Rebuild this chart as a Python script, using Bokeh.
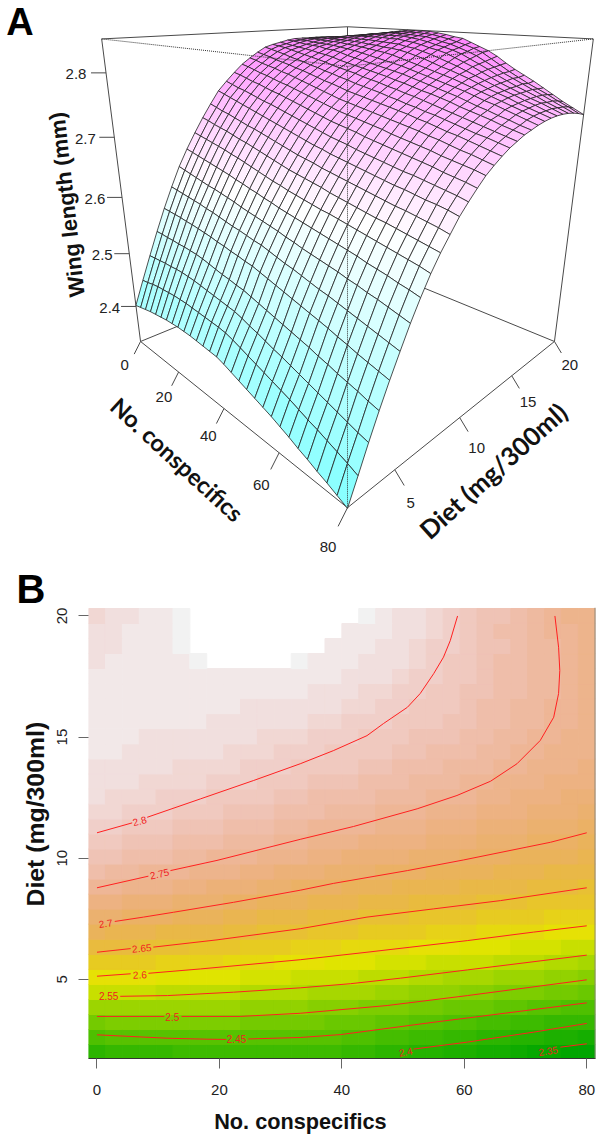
import colorsys
import math
import numpy as np
from bokeh.core.properties import value
from bokeh.embed import file_html
from bokeh.layouts import column
from bokeh.models import ColumnDataSource, FixedTicker, Range1d, Span, Title
from bokeh.plotting import figure
from bokeh.resources import INLINE

# ---------------- data ----------------
conspecifics_grid = [0, 2.76, 5.52, 8.28, 11.03, 13.79, 16.55, 19.31, 22.07, 24.83, 27.59, 30.34, 33.10, 35.86, 38.62,
                     41.38, 44.14, 46.90, 49.66, 52.41, 55.17, 57.93, 60.69, 63.45, 66.21, 68.97, 71.72, 74.48, 77.24, 80]
diet_grid = [2.00, 2.62, 3.24, 3.86, 4.48, 5.10, 5.72, 6.34, 6.97, 7.59, 8.21, 8.83, 9.45, 10.07, 10.69,
             11.31, 11.93, 12.55, 13.17, 13.79, 14.41, 15.03, 15.66, 16.28, 16.90, 17.52, 18.14, 18.76, 19.38, 20.00]

# wing length in 1/1000 mm: one row per diet level, one column per conspecific level
wing_length_um = [
 [2402,2405,2408,2411,2413,2415,2417,2418,2419,2419,2419,2418,2417,2416,2415,2411,2406,2401,2396,2391,2386,2381,2375,2369,2362,2356,2349,2343,2336,2329],
 [2444,2446,2449,2451,2452,2453,2454,2454,2454,2453,2452,2451,2450,2449,2447,2443,2438,2433,2428,2423,2418,2413,2408,2402,2396,2391,2385,2379,2373,2366],
 [2485,2486,2487,2488,2488,2489,2489,2488,2487,2485,2483,2481,2479,2477,2475,2471,2466,2462,2457,2452,2448,2443,2438,2433,2428,2423,2418,2413,2408,2404],
 [2525,2525,2524,2524,2523,2523,2522,2521,2519,2516,2513,2510,2508,2505,2503,2499,2495,2491,2487,2483,2479,2475,2471,2466,2462,2457,2453,2449,2444,2440],
 [2563,2562,2561,2560,2558,2557,2555,2553,2551,2548,2546,2543,2541,2538,2536,2532,2528,2524,2520,2516,2512,2508,2504,2500,2495,2491,2486,2482,2478,2474],
 [2598,2596,2594,2592,2590,2588,2585,2583,2580,2577,2574,2572,2569,2566,2564,2560,2556,2552,2549,2545,2541,2537,2534,2530,2526,2522,2518,2514,2510,2506],
 [2631,2628,2625,2622,2619,2616,2614,2611,2608,2605,2601,2598,2595,2592,2589,2586,2582,2579,2575,2572,2569,2566,2563,2559,2556,2552,2549,2545,2541,2537],
 [2659,2656,2653,2650,2647,2644,2641,2638,2634,2631,2627,2624,2620,2617,2613,2610,2607,2604,2601,2598,2595,2592,2589,2586,2582,2579,2576,2572,2569,2565],
 [2685,2682,2679,2676,2673,2670,2666,2663,2659,2655,2651,2647,2643,2640,2636,2633,2630,2627,2624,2622,2619,2616,2613,2610,2607,2604,2601,2598,2595,2591],
 [2709,2706,2702,2699,2696,2692,2688,2685,2681,2677,2673,2669,2665,2661,2658,2655,2652,2649,2645,2642,2639,2636,2633,2630,2628,2625,2622,2619,2616,2613],
 [2731,2727,2723,2720,2716,2712,2708,2705,2701,2697,2693,2689,2685,2681,2678,2675,2671,2668,2665,2662,2659,2656,2653,2650,2647,2645,2642,2639,2636,2632],
 [2752,2748,2744,2740,2736,2732,2728,2724,2720,2716,2712,2708,2704,2700,2696,2693,2689,2686,2683,2680,2677,2674,2671,2668,2666,2663,2660,2658,2655,2651],
 [2767,2763,2759,2756,2752,2748,2744,2741,2737,2733,2729,2725,2721,2717,2713,2709,2706,2703,2699,2696,2693,2690,2687,2684,2682,2679,2676,2673,2670,2666],
 [2781,2778,2774,2770,2767,2763,2759,2756,2752,2748,2744,2740,2736,2732,2728,2725,2722,2719,2715,2712,2709,2706,2703,2700,2697,2694,2690,2687,2684,2680],
 [2794,2791,2787,2783,2780,2776,2772,2769,2765,2761,2757,2753,2749,2745,2741,2738,2735,2732,2729,2726,2722,2719,2716,2713,2710,2706,2703,2700,2697,2693],
 [2804,2801,2797,2794,2791,2787,2784,2780,2776,2772,2768,2764,2760,2756,2753,2750,2747,2744,2741,2738,2735,2732,2729,2725,2722,2718,2714,2711,2707,2703],
 [2813,2810,2807,2803,2800,2797,2793,2790,2786,2782,2778,2775,2771,2767,2764,2761,2758,2755,2752,2749,2746,2742,2739,2735,2731,2728,2724,2720,2716,2712],
 [2821,2818,2815,2812,2808,2805,2802,2798,2795,2791,2788,2784,2781,2777,2774,2771,2768,2764,2761,2757,2754,2750,2747,2743,2739,2735,2731,2728,2724,2720],
 [2825,2823,2821,2818,2815,2812,2809,2806,2803,2799,2796,2793,2790,2786,2783,2780,2776,2773,2769,2766,2762,2758,2754,2750,2746,2742,2738,2734,2730,2726],
 [2828,2826,2824,2822,2820,2818,2815,2813,2810,2806,2803,2800,2797,2794,2791,2788,2784,2781,2777,2773,2770,2766,2762,2757,2753,2749,2745,2740,2736,2732],
 [2831,2830,2828,2826,2825,2824,2821,2820,2817,2813,2810,2807,2804,2801,2798,2795,2792,2788,2784,2780,2776,2772,2768,2763,2758,2754,2749,2745,2740,2736],
 [2833,2831,2831,2829,2828,2827,2826,2824,2822,2820,2817,2814,2811,2808,2805,2802,2798,2794,2790,2786,2782,2778,2774,2769,2764,2760,2755,2750,2745,2740],
 [2833,2833,2833,2832,2831,2831,2830,2828,2827,2825,2823,2821,2819,2816,2812,2808,2804,2800,2796,2792,2788,2783,2778,2773,2768,2763,2758,2753,2748,2743],
 [2833,2833,2834,2834,2834,2833,2833,2832,2831,2829,2828,2826,2825,2823,2820,2816,2812,2807,2802,2798,2793,2788,2782,2776,2771,2766,2760,2755,2750,2745],
 [2833,2834,2835,2835,2836,2836,2836,2835,2835,2834,2833,2832,2831,2828,2826,2822,2818,2813,2808,2803,2797,2791,2785,2779,2773,2768,2762,2757,2751,2746],
 [2831,2833,2835,2836,2838,2838,2839,2839,2839,2839,2838,2838,2836,2834,2831,2827,2824,2820,2814,2808,2802,2795,2788,2781,2775,2769,2763,2758,2752,2746],
 [2828,2831,2833,2835,2838,2839,2840,2842,2842,2842,2842,2842,2840,2838,2835,2831,2828,2824,2819,2812,2805,2798,2790,2783,2776,2770,2764,2757,2751,2745],
 [2824,2828,2833,2835,2838,2840,2842,2843,2845,2845,2845,2844,2843,2842,2839,2835,2832,2827,2822,2816,2808,2800,2792,2785,2778,2771,2764,2757,2750,2743],
 [2820,2825,2831,2834,2838,2840,2842,2844,2845,2847,2847,2847,2846,2845,2842,2839,2835,2831,2826,2820,2811,2802,2793,2785,2777,2770,2763,2755,2748,2740],
 [2813,2821,2828,2833,2836,2840,2842,2845,2847,2849,2849,2849,2849,2847,2845,2842,2840,2834,2828,2822,2814,2804,2795,2787,2779,2770,2761,2752,2744,2736],
]

n_ticks = [0, 20, 40, 60, 80]
diet_ticks_a = [5, 10, 15, 20]
wing_ticks = [2.4, 2.5, 2.6, 2.7, 2.8]
diet_ticks_b = [5, 10, 15, 20]

nan = float("nan")
contour_lines = {
    "2.8": ([0, 5.75, nan, 8.2, 16.9, 25.6, 33.2, 38.6, 44.1, 46.8, 50.7, 52.8, 55, 56.6, 57.7, 58.9],
            [11.05, 11.46, nan, 11.69, 12.45, 13.21, 13.9, 14.44, 15.06, 15.56, 16.23, 16.8, 17.62, 18.3, 18.98, 20.0]),
    "2.75": ([0, 8.4, nan, 12.0, 19.6, 33.2, 41.9, 52.3, 58.8, 64.3, 68.6, 72.4, 74.6, 75.4, 75.6, 75.4, 74.8],
             [8.78, 9.26, nan, 9.49, 9.91, 10.78, 11.31, 12.04, 12.59, 13.18, 13.9, 14.86, 15.82, 16.8, 17.75, 18.71, 20.0]),
    "2.7": ([2.9, 7.6, 12.5, 22.3, 33.2, 38.6, 50.7, 59.9, 74.1, 80],
            [7.39, 7.57, 7.77, 8.18, 8.68, 8.96, 9.49, 9.93, 10.66, 11.05]),
    "2.65": ([0, 5.5, nan, 9.2, 19.6, 33.2, 44.1, 55, 65.9, 80],
             [6.12, 6.27, nan, 6.33, 6.63, 7.09, 7.57, 7.91, 8.25, 8.78]),
    "2.6": ([0, 5.5, nan, 8.4, 16.9, 33.2, 44.1, 60.5, 71.3, 80],
            [5.13, 5.23, nan, 5.25, 5.43, 5.81, 6.12, 6.60, 6.95, 7.21]),
    "2.55": ([3.8, 11.5, 22.3, 33.2, 41.4, 49.6, 60.5, 80],
             [4.30, 4.33, 4.47, 4.65, 4.82, 5.05, 5.39, 6.0]),
    "2.5": ([0, 11.0, nan, 13.8, 23.4, 33.2, 47.4, 60.5, 80],
            [3.47, 3.47, nan, 3.47, 3.47, 3.60, 3.92, 4.33, 4.98]),
    "2.45": ([0, 11.5, 18.0, 21.1, nan, 24.7, 33.2, 39.8, 55, 80],
             [2.71, 2.57, 2.53, 2.52, nan, 2.54, 2.60, 2.72, 3.23, 4.03]),
    "2.4": ([51.7, 60.5, 71.3, 80], [2.12, 2.41, 2.82, 3.18]),
    "2.35": ([75.7, 80], [2.20, 2.34]),
}
contour_label_n = [6.95, 10.2, 1.4, 7.3, 7.0, 1.9, 12.3, 22.8, 50.4, 73.7]
contour_label_diet = [11.55, 9.37, 7.32, 6.3, 5.2, 4.3, 3.45, 2.53, 2.02, 2.06]
contour_label_text = ["2.8", "2.75", "2.7", "2.65", "2.6", "2.55", "2.5", "2.45", "2.4", "2.35"]
contour_label_angle = [15, 12, 8, 5, 3, 0, 0, 0, 10, 8]

# ---------------- derived ----------------
Z = np.array(wing_length_um) / 1000.0
Z_LO, Z_HI = 2.33, 2.85
Z_BLANK = 2.841

# ---------------- panel A: perspective view ----------------
VIEW_S, VIEW_C = 0.326, 0.945
VIEW_D = 3.795
SCALE = 158.9
CX, CY = 347.0, 202.7


def project(n, d, z):
    u = (np.asarray(n, float) - 40.0) / 40.0
    v = (np.asarray(d, float) - 11.0) / 9.0
    w = (np.asarray(z, float) - 2.59) / 0.26
    X = (u + v) / math.sqrt(2)
    D = (u - v) / math.sqrt(2)
    Y = w * VIEW_C - D * VIEW_S
    Q = D * VIEW_C + w * VIEW_S
    f = VIEW_D / (VIEW_D - Q)
    return CX + SCALE * X * f, CY - SCALE * Y * f, f


def cm_colour(z):
    mid = 2.62
    if z < mid:
        t = min((mid - z) / (mid - Z_LO), 1)
        r = int(round(255 - 127 * t))
        return f"#{r:02x}ffff"
    t = min((z - mid) / (Z_HI - mid), 1)
    g = int(round(255 - 127 * t))
    return f"#ff{g:02x}ff"


pa = figure(width=600, height=555, x_range=Range1d(0, 600), y_range=Range1d(555, 0),
            x_axis_type=None, y_axis_type=None, toolbar_location=None, output_backend="svg",
            min_border=0, outline_line_color=None)
pa.frame_align = False
pa.grid.visible = False

BOX = "#4a4a4a"
DMIN, DMAX, NMIN, NMAX = diet_grid[0], diet_grid[-1], conspecifics_grid[0], conspecifics_grid[-1]


def edge(a, b):
    x, y, _ = project([a[0], b[0]], [a[1], b[1]], [a[2], b[2]])
    return list(x), list(y)


solid_edges = [
    ((NMIN, DMIN, Z_LO), (NMIN, DMAX, Z_LO)), ((NMIN, DMAX, Z_LO), (NMAX, DMAX, Z_LO)),
    ((NMIN, DMAX, Z_LO), (NMIN, DMAX, Z_HI)), ((NMIN, DMIN, Z_HI), (NMIN, DMAX, Z_HI)),
    ((NMIN, DMAX, Z_HI), (NMAX, DMAX, Z_HI)), ((NMIN, DMIN, Z_LO), (NMIN, DMIN, Z_HI)),
    ((NMAX, DMAX, Z_LO), (NMAX, DMAX, Z_HI)), ((NMIN, DMIN, Z_LO), (NMAX, DMIN, Z_LO)),
    ((NMAX, DMIN, Z_LO), (NMAX, DMAX, Z_LO)),
]
dotted_edges = [
    ((NMIN, DMIN, Z_HI), (NMAX, DMIN, Z_HI)), ((NMAX, DMIN, Z_HI), (NMAX, DMAX, Z_HI)),
    ((NMAX, DMIN, Z_LO), (NMAX, DMIN, Z_HI)),
]
sx, sy = zip(*[edge(a, b) for a, b in solid_edges])
pa.multi_line(list(sx), list(sy), line_color=BOX, line_width=1)

# facets, back corner first
xs, ys, cols = [], [], []
for i in range(len(diet_grid) - 2, -1, -1):
    for j in range(len(conspecifics_grid) - 1):
        ns = [conspecifics_grid[j], conspecifics_grid[j + 1], conspecifics_grid[j + 1], conspecifics_grid[j]]
        ds = [diet_grid[i], diet_grid[i], diet_grid[i + 1], diet_grid[i + 1]]
        zs = [Z[i, j], Z[i, j + 1], Z[i + 1, j + 1], Z[i + 1, j]]
        x, y, _ = project(ns, ds, zs)
        xs.append(list(x))
        ys.append(list(y))
        cols.append(cm_colour(float(np.mean(zs))))
pa.patches(xs, ys, fill_color=cols, line_color="#222222", line_width=0.8)

dx, dy = zip(*[edge(a, b) for a, b in dotted_edges])
pa.multi_line(list(dx), list(dy), line_color="#333333", line_width=1, line_dash="1 1")

TICK_FONT = value("Liberation Sans")
TICK_COL = "#222222"

# conspecifics ticks
bx, by, f = project(n_ticks, [DMIN] * 5, [Z_LO] * 5)
pa.segment(bx, by, bx - 6.9 * f, by + 13.7 * f, line_color=BOX, line_width=1)
off_x = [-16, -14.7, -15.7, -17.8, -19.5]
off_y = [24, 25, 27.7, 32.7, 39]
pa.text(bx + np.array(off_x), by + np.array(off_y), text=[str(t) for t in n_ticks], text_font=TICK_FONT,
        text_font_size="15px", text_color=TICK_COL, text_align="center", text_baseline="middle")
# diet ticks
bx, by, f = project([NMAX] * 4, diet_ticks_a, [Z_LO] * 4)
pa.segment(bx, by, bx + 7.5 * f, by + 12.5 * f, line_color=BOX, line_width=1)
off_x = [16, 17, 16.3, 15.3]
off_y = [33.5, 30.3, 26, 24]
pa.text(bx + np.array(off_x), by + np.array(off_y), text=[str(t) for t in diet_ticks_a], text_font=TICK_FONT,
        text_font_size="15px", text_color=TICK_COL, text_align="center", text_baseline="middle")
# wing ticks
bx, by, f = project([NMIN] * 5, [DMIN] * 5, wing_ticks)
pa.segment(bx, by, bx - 15, by, line_color=BOX, line_width=1)
pa.text(bx + np.array([-26.3, -27, -27, -29, -30]), by + 1.5, text=[f"{t:.1f}" for t in wing_ticks], text_font=TICK_FONT,
        text_font_size="15px", text_color=TICK_COL, text_align="center", text_baseline="middle")

pa.text([19.5], [21], text=["A"], text_font=value("Liberation Sans"), text_font_style="bold",
        text_font_size="38px", text_color="#000000", text_align="center", text_baseline="middle")
pa.text([176.7], [459], text=["No. conspecifics"], angle=[math.radians(-42.5)], text_font=value("Lato"),
        text_font_style="bold", text_font_size="23.5px", text_color="#111111", text_align="center", text_baseline="middle")
pa.text([492.5], [470], text=["Diet (mg/300ml)"], angle=[math.radians(42)], text_font=value("Lato"),
        text_font_style="bold", text_font_size="25.5px", text_color="#111111", text_align="center", text_baseline="middle")
pa.text([66.5], [204], text=["Wing length (mm)"], angle=[math.radians(96.3)], text_font=value("Liberation Sans"),
        text_font_style="bold", text_font_size="22px", text_color="#111111", text_align="center", text_baseline="middle")

# ---------------- panel B: image and contours ----------------
pb = figure(width=600, height=591, x_range=Range1d(-1.388, 81.43), y_range=Range1d(1.733, 20.35),
            toolbar_location=None, output_backend="svg", min_border_left=88, min_border_right=5,
            min_border_top=52, min_border_bottom=88, outline_line_color=None)
pb.frame_align = False
pb.grid.visible = False


def terrain(t):
    t = min(max(t, 0.0), 1.0)
    t = math.floor(t * 50) / 49      # fifty-step palette
    t = min(t, 1.0)
    if t <= 0.5:
        a = t / 0.5
        h, s, v = (120 - 60 * a) / 360, 1.0, 0.65 + 0.25 * a
    else:
        a = (t - 0.5) / 0.5
        h, s, v = (60 - 60 * a) / 360, 1.0 - a, 0.9 + 0.05 * a
    r, g, b = colorsys.hsv_to_rgb(h, s, v)
    return f"#{int(round(r * 255)):02x}{int(round(g * 255)):02x}{int(round(b * 255)):02x}"


half_n = (conspecifics_grid[1] - conspecifics_grid[0]) / 2
half_d = (diet_grid[1] - diet_grid[0]) / 2
L, R, T, B, C = [], [], [], [], []
for i, d in enumerate(diet_grid):
    for j, n in enumerate(conspecifics_grid):
        z = Z[i, j]
        if z > Z_BLANK:       # above the colour limits: left blank, as in the reference
            continue
        L.append(n - half_n)
        R.append(n + half_n)
        B.append(d - half_d)
        T.append(d + half_d)
        C.append(terrain((z - Z_LO) / (Z_HI - Z_LO)))
pb.quad(left="l", right="r", top="t", bottom="b", fill_color="c", line_color="c", line_width=1,
        source=ColumnDataSource(dict(l=L, r=R, t=T, b=B, c=C)))

for lev, (cn, cd) in contour_lines.items():
    pb.line(cn, cd, line_color="#ff2020", line_width=1)
pb.text(contour_label_n, contour_label_diet, text=contour_label_text,
        angle=[math.radians(a) for a in contour_label_angle], text_font=value("Liberation Sans"),
        text_font_size="10px", text_color="#f02020", text_align="center", text_baseline="middle")

pb.add_layout(Span(location=81.4, dimension="height", line_color="#8a8478", line_width=1.5))

pb.xaxis.ticker = FixedTicker(ticks=n_ticks)
pb.yaxis.ticker = FixedTicker(ticks=diet_ticks_b)
for ax in (pb.xaxis[0], pb.yaxis[0]):
    ax.major_tick_out = 10
    ax.major_tick_in = 0
    ax.minor_tick_line_color = None
    ax.major_tick_line_color = "#666666"
    ax.major_tick_line_width = 1
    ax.major_label_text_font = "Liberation Sans"
    ax.major_label_text_font_size = "15px"
    ax.major_label_text_color = "#222222"
pb.xaxis.axis_line_color = "#333333"
pb.xaxis.major_label_standoff = 16
pb.yaxis.axis_line_color = None
pb.yaxis.major_label_orientation = "vertical"
pb.yaxis.major_label_standoff = 11

pb.add_layout(Title(text="No. conspecifics", align="left", offset=125.7, standoff=18, text_font="Liberation Sans",
                    text_font_style="bold", text_font_size="21.7px", text_color="#111111"), "below")
pb.add_layout(Title(text="Diet (mg/300ml)", align="left", offset=152, standoff=12, text_font="Liberation Sans",
                    text_font_style="bold", text_font_size="24.8px", text_color="#111111"), "left")
pb.add_layout(Title(text="B", align="left", offset=-72, standoff=-7, text_font="Liberation Sans",
                    text_font_style="bold", text_font_size="40px", text_color="#000000"), "above")

layout = column(pa, pb, spacing=0)
open("out.html", "w").write(file_html(layout, INLINE))
